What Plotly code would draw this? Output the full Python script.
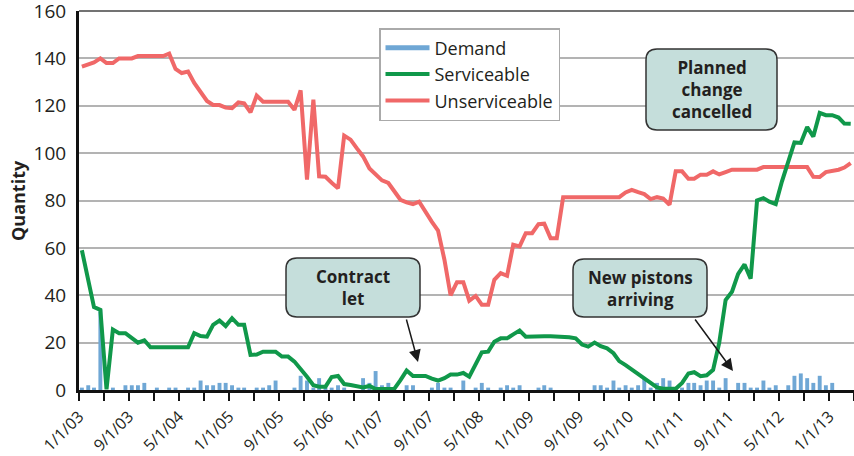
import pandas as pd
import plotly.graph_objects as go

# ---- data (monthly, mid-month) ----
months = pd.date_range("2003-01-01", periods=124, freq="MS") + pd.Timedelta(days=14)

demand = [1, 2, 1, 34, 0, 1, 0, 2, 2, 2, 3, 0, 1, 0, 1, 1, 0, 1, 1, 4,
          2, 2, 3, 3, 2, 1, 1, 0, 1, 1, 2, 4, 0, 0, 1, 6, 4, 1, 5, 1,
          1, 2, 1, 0, 0, 5, 3, 8, 2, 3, 1, 0, 2, 2, 0, 0, 1, 3, 1, 1,
          0, 4, 0, 1, 3, 1, 0, 1, 2, 1, 2, 0, 0, 1, 2, 1, 0, 0, 0, 0,
          0, 0, 2, 2, 1, 4, 1, 2, 1, 2, 5, 1, 3, 5, 4, 1, 1, 3, 3, 2,
          4, 4, 1, 5, 0, 3, 3, 1, 1, 4, 1, 2, 0, 2, 6, 7, 5, 3, 6, 2,
          3, 0, 0, 0]

serviceable = [59, 47, 35, 33.8, 0.3, 25.5, 24, 24, 22, 20, 21, 18, 18, 18, 18, 18, 18, 18, 24, 22.8,
               22.5, 27.5, 29.3, 27, 30.3, 27.5, 27.5, 14.8, 15, 16.2, 16.2, 16.2, 14.1, 14.1, 12, 9, 5.6, 2, 1.4, 1.4,
               5.5, 5.9, 2.5, 2.1, 1.5, 1.1, 1.7, 0.4, 0.4, 0.4, 0.4, 4.2, 8.2, 5.9, 5.9, 5.9, 4.8, 4, 5, 6.5,
               6.5, 7.2, 5.6, 11.3, 15.9, 16.2, 20.4, 21.8, 21.8, 23.5, 25.1, 22.5, 22.7, 22.7, 22.7, 22.7, 22.7, 22.7, 22.3, 21.8,
               19.2, 18.3, 20, 18.5, 17.6, 15.5, 12.2, 10.5, 8.7, 7, 5, 3, 1.1, 0.5, 0.5, 0.5, 3, 7, 7.5, 5.8,
               6.2, 8.5, 20, 38, 41.5, 49, 53, 47, 80, 81, 79.5, 78.5, 88, 97, 104.5, 104.3, 111, 107, 117, 116,
               116, 115, 112.5, 112.4]

unserviceable = [136.5, 137.5, 138.3, 140, 138, 138, 140, 140, 140, 141, 141, 141, 141, 141, 142, 135.5, 133.8, 134.4, 129.6, 126,
                 122, 120.3, 120.3, 119.2, 119, 121.4, 121, 117.2, 124.3, 121.7, 121.7, 121.7, 121.7, 121.7, 118.3, 126.5, 88.8, 122.6, 90.2, 90,
                 87.5, 85.2, 107.4, 105.7, 102, 98.6, 93.5, 91.2, 88.5, 87.4, 84, 80.3, 79.2, 78.5, 79.5, 75, 71, 67.3, 55, 40,
                 45.5, 45.5, 37.7, 39.7, 36, 36, 46.5, 49.3, 48.2, 61.3, 60.6, 66.2, 66.2, 70, 70.2, 64.1, 64.1, 81.4, 81.4, 81.4,
                 81.4, 81.4, 81.4, 81.4, 81.4, 81.4, 81.4, 83.4, 84.5, 83.5, 82.7, 80.6, 81.4, 80.8, 78.2, 92.3, 92.3, 89.2, 89.2, 90.9,
                 90.9, 92.3, 91, 92, 93, 93, 93, 93, 93, 94.1, 94.1, 94.1, 94.1, 94.1, 94.1, 94.1, 94.1, 90, 89.9, 92,
                 92.4, 93, 93.9, 95.8]

series_names = ["Demand", "Serviceable", "Unserviceable"]
annotation_texts = ["Contract<br>let", "New pistons<br>arriving", "Planned<br>change<br>cancelled"]

# ---- styling ----
C_DEM = "#6fa7d5"
C_SER = "#10984a"
C_UNS = "#f06868"
BOX_FILL = "#c5dedb"
TXT = "#231f20"
FONT = "Open Sans"

W, H = 854, 456
L, R, T, B = 79, 854, 11, 390  # plot area in pixels


def px2x(px):
    return (px - L) / (R - L)


def py2y(py):
    return (B - py) / (B - T)


def rrect(x0, y0, x1, y1, r):
    pts = [("M", x0 + r, y0), ("L", x1 - r, y0), ("Q", x1, y0, x1, y0 + r),
           ("L", x1, y1 - r), ("Q", x1, y1, x1 - r, y1), ("L", x0 + r, y1),
           ("Q", x0, y1, x0, y1 - r), ("L", x0, y0 + r), ("Q", x0, y0, x0 + r, y0)]
    s = ""
    for p in pts:
        cmd = p[0]
        coords = p[1:]
        parts = []
        for i in range(0, len(coords), 2):
            parts.append(f"{px2x(coords[i]):.5f},{py2y(coords[i+1]):.5f}")
        s += cmd + " ".join(parts) + " "
    return s + "Z"


fig = go.Figure()

fig.add_trace(go.Bar(x=months, y=demand, name=series_names[0], marker_color=C_DEM,
                     marker_line_width=0, width=19 * 24 * 3600 * 1000, showlegend=False))
# legend swatch for Demand as a line
fig.add_trace(go.Scatter(x=[months[0]], y=[None], mode="lines", name=series_names[0],
                         line=dict(color=C_DEM, width=5), legendrank=1))
fig.add_trace(go.Scatter(x=months, y=unserviceable, mode="lines", name=series_names[2],
                         line=dict(color=C_UNS, width=4), legendrank=3))
fig.add_trace(go.Scatter(x=months, y=serviceable, mode="lines", name=series_names[1],
                         line=dict(color=C_SER, width=4), legendrank=2))

shapes = [
    dict(type="line", xref="paper", yref="paper", x0=0, x1=1, y0=1, y1=1,
         line=dict(color="#444444", width=1.5)),
]
boxes = [(286, 258, 420, 317), (573, 259, 707, 317), (646, 49, 777, 130)]
for (x0, y0, x1, y1) in boxes:
    shapes.append(dict(type="path", xref="paper", yref="paper", path=rrect(x0, y0, x1, y1, 11),
                       fillcolor=BOX_FILL, line=dict(color="#333333", width=1.5), layer="above"))

annotations = []
for (x0, y0, x1, y1), txt in zip(boxes, annotation_texts):
    annotations.append(dict(x=px2x((x0 + x1) / 2), y=py2y((y0 + y1) / 2), xref="paper", yref="paper",
                            text=f"<b>{txt}</b>", showarrow=False, xanchor="center", yanchor="middle",
                            font=dict(family=FONT, size=17, color=TXT)))

# arrows
for head, tail in [((418, 362), (406, 318)), ((733, 371), (694, 318))]:
    annotations.append(dict(x=px2x(head[0]), y=py2y(head[1]), xref="paper", yref="paper",
                            ax=tail[0] - head[0], ay=tail[1] - head[1], text="",
                            showarrow=True, arrowhead=2, arrowsize=1.6, arrowwidth=1.5,
                            arrowcolor="#1a1a1a"))

# y title
annotations.append(dict(x=px2x(18), y=py2y(201), xref="paper", yref="paper", text="<b>Quantity</b>",
                        textangle=-90, showarrow=False, xanchor="center", yanchor="middle",
                        font=dict(family=FONT, size=18, color=TXT)))

fig.update_layout(
    width=W, height=H,
    margin=dict(l=L, r=W - R, t=T, b=H - B, autoexpand=False),
    paper_bgcolor="white", plot_bgcolor="white",
    font=dict(family=FONT, color=TXT),
    bargap=0.3,
    showlegend=True,
    legend=dict(x=px2x(379), y=py2y(28), xanchor="left", yanchor="top",
                bgcolor="white", bordercolor="#aaaaaa", borderwidth=1.5,
                font=dict(family=FONT, size=18, color=TXT), tracegroupgap=0,
                traceorder="normal", itemwidth=44),
    shapes=shapes,
    annotations=annotations,
    xaxis=dict(type="date", range=["2003-01-01", "2013-05-01"],
               tick0="2003-01-01", dtick="M8", tickformat="%-m/%-d/%y",
               tickangle=-45, ticks="outside", ticklen=8, tickwidth=2, tickcolor="#111111",
               minor=dict(dtick="M4", ticks="outside", ticklen=8, tickwidth=2, tickcolor="#111111", showgrid=False),
               showline=True, linecolor="#111111", linewidth=3, showgrid=False, zeroline=False,
               ticklabeloverflow="allow",
               tickfont=dict(family=FONT, size=16, color=TXT)),
    yaxis=dict(range=[0, 160], dtick=20, showgrid=True, gridcolor="#b3b3b3", gridwidth=1.5,
               showline=True, linecolor="#111111", linewidth=3, zeroline=False, ticks="",
               ticklabelstandoff=6, ticklabeloverflow="allow",
               tickfont=dict(family=FONT, size=19, color=TXT)),
)

fig.write_html("out.html", config={"displayModeBar": False},
               post_script="document.body.style.margin='0';document.body.style.overflow='hidden';")
